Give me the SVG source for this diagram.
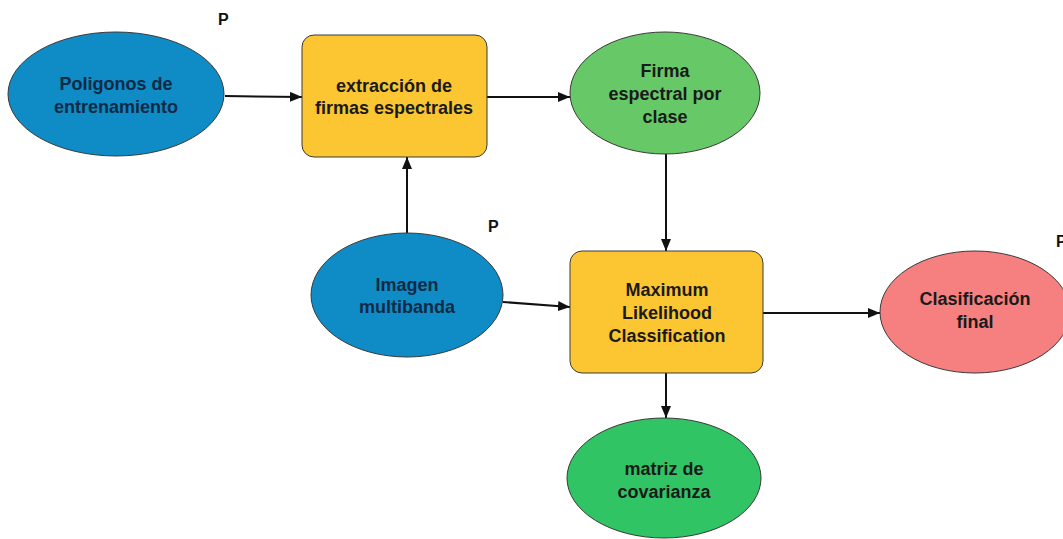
<svg xmlns="http://www.w3.org/2000/svg" width="1063" height="539" viewBox="0 0 1063 539">
  <defs>
    <marker id="arrow" viewBox="0 0 12 10" refX="12" refY="5" markerWidth="12" markerHeight="10" markerUnits="userSpaceOnUse" orient="auto">
      <path d="M0,0 L12,5 L0,10 Z" fill="#111"/>
    </marker>
  </defs>
  <style>
    .lbl { font-family: "Liberation Sans", Arial, sans-serif; font-weight: bold; font-size: 18px; text-anchor: middle; fill: #1a1a1a; }
    .lbl-blue { fill: #0f2a44; }
    .tag { font-family: "Liberation Sans", Arial, sans-serif; font-weight: bold; font-size: 16px; fill: #111; }
    .shape { stroke: #3a3a3a; stroke-width: 1; }
    .data-in { fill: #0f8bc6; }
    .tool { fill: #fcc632; }
    .out-sig { fill: #66c866; }
    .out-cov { fill: #30c464; }
    .out-final { fill: #f68080; }
    .edge { stroke: #111; stroke-width: 2; fill: none; marker-end: url(#arrow); }
  </style>
  <rect width="1063" height="539" fill="#ffffff"/>

  <!-- connectors -->
  <g id="connectors">
    <line class="edge" x1="225" y1="96" x2="302" y2="97"/>
    <line class="edge" x1="487" y1="97" x2="570" y2="97"/>
    <line class="edge" x1="407" y1="233" x2="407" y2="157"/>
    <line class="edge" x1="666" y1="154" x2="666" y2="251"/>
    <line class="edge" x1="503" y1="302" x2="570" y2="307"/>
    <line class="edge" x1="763" y1="313" x2="880" y2="313"/>
    <line class="edge" x1="666" y1="373" x2="666" y2="418"/>
  </g>

  <!-- parameter markers -->
  <text class="tag" x="218" y="25">P</text>
  <text class="tag" x="488" y="232">P</text>
  <text class="tag" x="1056" y="247">P</text>

  <g id="poligonos">
    <ellipse class="shape data-in" cx="116" cy="94" rx="108" ry="62"/>
    <text class="lbl lbl-blue" x="116" y="90">Poligonos de</text>
    <text class="lbl lbl-blue" x="116" y="113">entrenamiento</text>
  </g>

  <g id="extraccion">
    <rect class="shape tool" x="302" y="35" width="185" height="122" rx="12" ry="12"/>
    <text class="lbl" x="394" y="92">extracción de</text>
    <text class="lbl" x="394" y="114">firmas espectrales</text>
  </g>

  <g id="firma">
    <ellipse class="shape out-sig" cx="665" cy="93" rx="95" ry="61"/>
    <text class="lbl" x="665" y="77">Firma</text>
    <text class="lbl" x="665" y="100">espectral por</text>
    <text class="lbl" x="665" y="123">clase</text>
  </g>

  <g id="imagen">
    <ellipse class="shape data-in" cx="407" cy="295" rx="96" ry="62"/>
    <text class="lbl lbl-blue" x="407" y="291">Imagen</text>
    <text class="lbl lbl-blue" x="407" y="313">multibanda</text>
  </g>

  <g id="mlc">
    <rect class="shape tool" x="570" y="251" width="193" height="122" rx="12" ry="12"/>
    <text class="lbl" x="667" y="296">Maximum</text>
    <text class="lbl" x="667" y="319">Likelihood</text>
    <text class="lbl" x="667" y="342">Classification</text>
  </g>

  <g id="clasificacion">
    <ellipse class="shape out-final" cx="975" cy="312" rx="95" ry="61"/>
    <text class="lbl" x="975" y="305">Clasificación</text>
    <text class="lbl" x="975" y="328">final</text>
  </g>

  <g id="covarianza">
    <ellipse class="shape out-cov" cx="664" cy="478" rx="97" ry="60"/>
    <text class="lbl" x="664" y="475">matriz de</text>
    <text class="lbl" x="664" y="498">covarianza</text>
  </g>
</svg>
